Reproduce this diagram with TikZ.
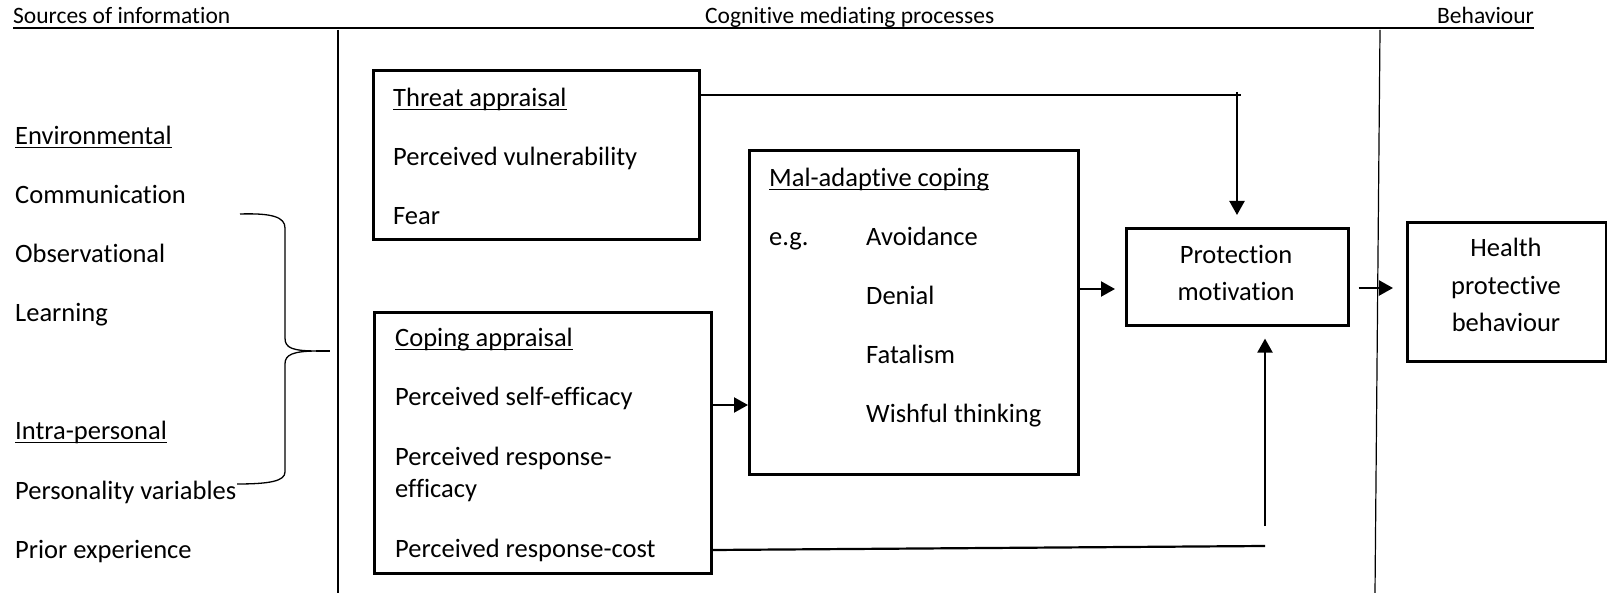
\documentclass[tikz,border=0pt]{standalone}
\usepackage{fontspec}
\setmainfont{Carlito}[Ligatures={NoCommon}]
\usetikzlibrary{arrows.meta}
% underline at a fixed depth below the baseline
\newsavebox\ulbox
\newcommand\ultext[1]{\sbox\ulbox{#1}\rlap{\rule[-3.2pt]{\wd\ulbox}{1.5pt}}\usebox\ulbox}

\begin{document}
\begin{tikzpicture}[x=1pt,y=-1pt,
  font=\fontsize{26.5}{32}\selectfont,
  box/.style={draw, line width=2.6pt, inner sep=0pt, anchor=north west},
  txt/.style={anchor=base west, inner sep=0pt},
  ctxt/.style={anchor=base, inner sep=0pt},
  headtxt/.style={anchor=base west, inner sep=0pt, font=\fontsize{23.5}{28}\selectfont},
  arr/.style={line width=2.2pt, -{Triangle[length=14pt,width=15pt]}},
  link/.style={line width=2.2pt},
  divider/.style={line width=1.2pt},
  bracepath/.style={line width=1.3pt},
]
\useasboundingbox (0,0) rectangle (1607,593);

% column headings and their rule
\node[headtxt] (src) at (13,24) {Sources of information};
\node[headtxt] (cog) at (705,24) {Cognitive mediating processes};
\node[headtxt, anchor=base east] (beh) at (1534,24) {Behaviour};
\coordinate (hl) at (13,28);
\coordinate (hr) at (1534,28);
\draw[link] (hl) -- (hr);

% column dividers
\coordinate (d1t) at (338,30);
\coordinate (d1b) at (338,593);
\coordinate (d2t) at (1380,30);
\coordinate (d2b) at (1375,593);
\draw[divider] (d1t) -- (d1b);
\draw[divider] (d2t) -- (d2b);

% sources of information
\node[txt] (env) at (15,145) {\ultext{Environmental}};
\node[txt] (com) at (15,204) {Communication};
\node[txt] (obs) at (15,263) {Observational};
\node[txt] (lea) at (15,322) {Learning};
\node[txt] (intra) at (15,440) {\ultext{Intra-personal}};
\node[txt] (pers) at (15,499) {Personality variables};
\node[txt] (prior) at (15,558) {Prior experience};

% brace gathering the sources
\draw[bracepath] (240,214) .. controls (272,213) and (285,217) .. (285,228)
  -- (285,338) .. controls (285,348) and (292,351) .. (318,351)
  .. controls (292,351) and (285,355) .. (285,364)
  -- (285,472) .. controls (285,481) and (270,484) .. (237,484);
\draw[link] (316,351) -- (330,351);

% boxes
\node[box, minimum width=326pt, minimum height=169pt] (threat) at (372,69) {};
\node[box, minimum width=337pt, minimum height=261pt] (coping) at (373,311) {};
\node[box, minimum width=329pt, minimum height=324pt] (mal) at (748,149) {};
\node[box, minimum width=222pt, minimum height=97pt] (prot) at (1125,227) {};
\node[box, minimum width=199pt, minimum height=139pt] (health) at (1406,221) {};

% threat appraisal
\node[txt] (ta) at (393,107) {\ultext{Threat appraisal}};
\node[txt] (tv) at (393,166) {Perceived vulnerability};
\node[txt] (tf) at (393,225) {Fear};

% coping appraisal
\node[txt] (ca1) at (395,347) {\ultext{Coping appraisal}};
\node[txt] (ca2) at (395,406) {Perceived self-efficacy};
\node[txt] (ca3) at (395,465) {Perceived response-};
\node[txt] (ca4) at (395,497) {efficacy};
\node[txt] (ca5) at (395,557) {Perceived response-cost};

% mal-adaptive coping
\node[txt] (m1) at (769,187) {\ultext{Mal-adaptive coping}};
\node[txt] (m2) at (769,246) {e.g.};
\node[txt] (m3) at (866,246) {Avoidance};
\node[txt] (m4) at (866,305) {Denial};
\node[txt] (m5) at (866,364) {Fatalism};
\node[txt] (m6) at (866,423) {Wishful thinking};

% protection motivation
\node[ctxt] (p1) at (1236,264) {Protection};
\node[ctxt] (p2) at (1236,301) {motivation};

% behaviour
\node[ctxt] (h1) at (1506,257) {Health};
\node[ctxt] (h2) at (1506,295) {protective};
\node[ctxt] (h3) at (1506,332) {behaviour};

% connectors
\coordinate (tc) at (1241,95);
\draw[link] (threat.east |- tc) -- (tc);
\coordinate (td) at (1237,92);
\draw[arr, shorten >=12pt] (td) -- (td |- prot.north);

\coordinate (cm) at (0,405);
\draw[arr] (coping.east |- cm) -- (mal.west |- cm);

\coordinate (mp) at (0,289);
\draw[arr, shorten >=10pt] (mal.east |- mp) -- (prot.west |- mp);

\coordinate (ph) at (0,288);
\draw[arr, shorten <=9pt, shorten >=13pt] (prot.east |- ph) -- (health.west |- ph);

\coordinate (rc1) at (0,550);
\coordinate (rc2) at (1265,546);
\draw[link] (coping.east |- rc1) -- (rc2);

\coordinate (up) at (1265,526);
\draw[arr, shorten >=12pt] (up) -- (up |- prot.south);
\end{tikzpicture}
\end{document}
